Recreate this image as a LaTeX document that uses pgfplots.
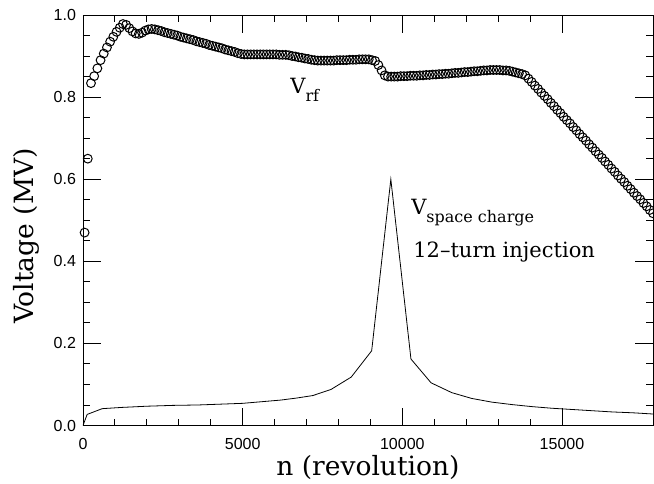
\documentclass[border=0pt]{standalone}
\usepackage{pgfplots}
\pgfplotsset{compat=1.18}
\usepackage{fontspec}
\setmainfont{DejaVu Serif}
\newfontfamily\tickfont{Liberation Sans}
\begin{document}
\begin{tikzpicture}
\useasboundingbox (-41.5pt,-28.75pt) rectangle (285.5pt,212.75pt);
\begin{axis}[
  at={(0pt,0pt)}, anchor=south west,
  scale only axis,
  width=285pt, height=205.25pt,
  xmin=0, xmax=17850, ymin=0, ymax=1.0,
  axis line style={line width=0.45pt},
  xtick={0,5000,10000,15000},
  ytick={0,0.2,0.4,0.6,0.8,1.0},
  scaled x ticks=false,
  scaled y ticks=false,
  minor x tick num=4,
  minor y tick num=3,
  tick align=inside,
  xtick pos=both, ytick pos=both,
  major tick length=9pt,
  minor tick length=3.5pt,
  tick style={black, line width=0.45pt},
  /pgf/number format/assume math mode=true,
  ticklabel style={font=\tickfont\fontsize{8}{8}\selectfont},
  xticklabel style={yshift=-3pt, /pgf/number format/set thousands separator={}},
  yticklabel style={/pgf/number format/fixed, /pgf/number format/fixed zerofill, /pgf/number format/precision=1},
  xlabel={n (revolution)},
  ylabel={Voltage (MV)},
  label style={font=\fontsize{13.25}{13.25}\selectfont},
  xlabel style={at={(axis description cs:0.5,-0.123)}, anchor=base},
  ylabel style={at={(axis description cs:-0.0877,0.4616)}, anchor=base},
]
% V_rf (circles)
\addplot[only marks, mark=o, mark size=2.2pt, mark options={line width=0.5pt, black}] coordinates {
(50,0.470)(150,0.650)(250,0.834)(350,0.851)(450,0.870)(550,0.890)(650,0.906)(750,0.921)(850,0.935)(950,0.947)
(1050,0.959)(1150,0.969)(1250,0.978)(1350,0.976)(1450,0.968)(1550,0.960)(1650,0.955)(1750,0.954)(1850,0.957)(1950,0.962)
(2050,0.965)(2150,0.966)(2250,0.965)(2350,0.963)(2450,0.961)(2550,0.958)(2650,0.956)(2750,0.954)(2850,0.952)(2950,0.950)
(3050,0.947)(3150,0.945)(3250,0.943)(3350,0.941)(3450,0.939)(3550,0.936)(3650,0.934)(3750,0.932)(3850,0.930)(3950,0.927)
(4050,0.925)(4150,0.923)(4250,0.921)(4350,0.919)(4450,0.916)(4550,0.914)(4650,0.912)(4750,0.910)(4850,0.907)(4950,0.905)
(5050,0.904)(5150,0.904)(5250,0.904)(5350,0.904)(5450,0.904)(5550,0.904)(5650,0.904)(5750,0.904)(5850,0.904)(5950,0.904)
(6050,0.904)(6150,0.903)(6250,0.903)(6350,0.903)(6450,0.902)(6550,0.900)(6650,0.899)(6750,0.897)(6850,0.896)(6950,0.894)
(7050,0.893)(7150,0.891)(7250,0.890)(7350,0.889)(7450,0.889)(7550,0.889)(7650,0.889)(7750,0.889)(7850,0.889)(7950,0.890)
(8050,0.890)(8150,0.890)(8250,0.890)(8350,0.891)(8450,0.891)(8550,0.891)(8650,0.892)(8750,0.892)(8850,0.892)(8950,0.892)
(9050,0.890)(9150,0.888)(9250,0.878)(9350,0.865)(9450,0.853)(9550,0.850)(9650,0.850)(9750,0.850)(9850,0.850)(9950,0.851)
(10050,0.851)(10150,0.851)(10250,0.852)(10350,0.852)(10450,0.852)(10550,0.853)(10650,0.853)(10750,0.854)(10850,0.854)(10950,0.855)
(11050,0.855)(11150,0.856)(11250,0.856)(11350,0.857)(11450,0.857)(11550,0.858)(11650,0.859)(11750,0.859)(11850,0.860)(11950,0.861)
(12050,0.861)(12150,0.862)(12250,0.863)(12350,0.863)(12450,0.864)(12550,0.865)(12650,0.865)(12750,0.866)(12850,0.866)(12950,0.866)
(13050,0.866)(13150,0.865)(13250,0.865)(13350,0.864)(13450,0.862)(13550,0.860)(13650,0.858)(13750,0.856)(13850,0.853)(13950,0.845)
(14050,0.837)(14150,0.828)(14250,0.820)(14350,0.811)(14450,0.803)(14550,0.795)(14650,0.786)(14750,0.778)(14850,0.769)(14950,0.761)
(15050,0.752)(15150,0.744)(15250,0.736)(15350,0.727)(15450,0.719)(15550,0.710)(15650,0.702)(15750,0.694)(15850,0.685)(15950,0.677)
(16050,0.668)(16150,0.660)(16250,0.652)(16350,0.643)(16450,0.635)(16550,0.626)(16650,0.618)(16750,0.609)(16850,0.601)(16950,0.593)
(17050,0.584)(17150,0.576)(17250,0.567)(17350,0.559)(17450,0.551)(17550,0.542)(17650,0.534)(17750,0.525)(17850,0.517)
};
% V_space charge (line)
\addplot[black, line width=0.4pt, mark=none] coordinates {
(0,0)(130,0.027)(600,0.041)(1200,0.044)(2000,0.047)(2800,0.049)(3600,0.050)(4300,0.052)(5000,0.054)
(5600,0.058)(6200,0.062)(6700,0.067)(7200,0.073)(7770,0.088)(8400,0.118)(9040,0.182)(9640,0.600)
(10270,0.162)(10900,0.104)(11550,0.080)(12170,0.066)(12800,0.057)(13430,0.051)(14060,0.046)(14690,0.042)
(15320,0.039)(15950,0.036)(16580,0.033)(17210,0.031)(17850,0.028)
};
\node[anchor=base west, inner sep=0pt, font=\fontsize{10.5}{10.5}\selectfont] at (axis cs:6481,0.808) {V\raisebox{-4pt}{\fontsize{8}{8}\selectfont rf}};
\node[anchor=base west, inner sep=0pt, font=\fontsize{10.5}{10.5}\selectfont] at (axis cs:10269,0.513) {V\raisebox{-4pt}{\fontsize{8}{8}\selectfont space charge}};
\node[anchor=base west, inner sep=0pt, font=\fontsize{10.5}{10.5}\selectfont] at (axis cs:10332,0.410) {12\textendash turn injection};
\end{axis}
\end{tikzpicture}
\end{document}
